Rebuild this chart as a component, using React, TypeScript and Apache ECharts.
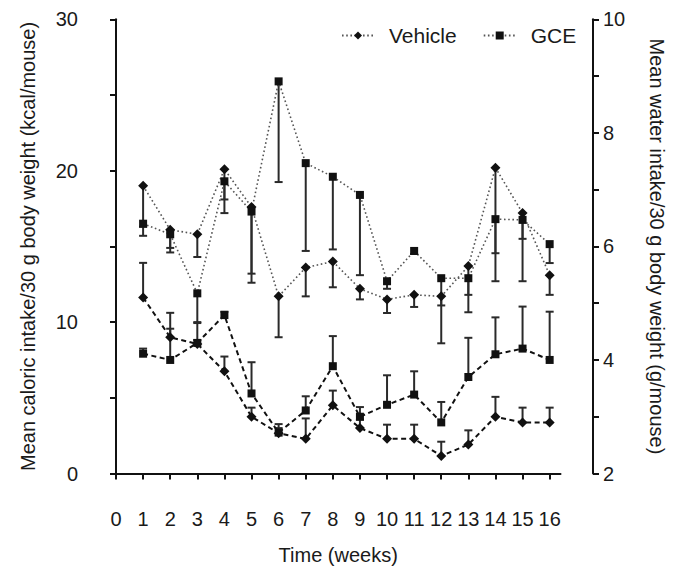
import React, { useEffect, useRef } from "react";
import * as echarts from "echarts";

const weeks = [1, 2, 3, 4, 5, 6, 7, 8, 9, 10, 11, 12, 13, 14, 15, 16];

// Caloric intake (left axis, kcal/mouse) — dotted lines, error bars below
const vehicleCal = [19.0, 16.1, 15.8, 20.1, 17.6, 11.7, 13.6, 14.0, 12.2, 11.5, 11.8, 11.7, 13.7, 20.2, 17.2, 13.1];
const vehicleCalLow = [15.7, 14.6, 14.3, 17.2, 13.2, 9.0, 11.7, 12.3, 11.5, 10.6, 11.0, 11.1, 10.65, 14.55, 15.5, 11.8];
const gceCal = [16.5, 15.8, 11.9, 19.3, 17.3, 25.9, 20.5, 19.6, 18.4, 12.7, 14.7, 12.9, 12.9, 16.8, 16.75, 15.15];
const gceCalLow = [16.3, 14.9, 10.0, 18.1, 12.6, 19.25, 14.7, 14.8, 13.1, 12.2, 14.5, 8.6, 11.8, 12.7, 12.7, 13.9];

// Water intake (right axis, g/mouse) — dashed lines, error bars above
const vehicleWater = [5.1, 4.4, 4.28, 3.8, 3.0, 2.71, 2.61, 3.2, 2.8, 2.61, 2.61, 2.31, 2.51, 3.0, 2.9, 2.9];
const vehicleWaterHigh = [5.71, 4.83, 4.35, 4.06, 3.16, 2.87, 2.97, 3.46, 2.95, 2.86, 2.86, 2.56, 2.76, 3.35, 3.16, 3.16];
const gceWater = [4.11, 4.0, 4.3, 4.79, 3.41, 2.72, 3.11, 3.89, 3.0, 3.21, 3.39, 2.9, 3.7, 4.1, 4.2, 4.0];
const gceWaterHigh = [4.2, 4.55, 4.65, 4.85, 3.96, 2.8, 3.36, 4.42, 3.17, 3.73, 3.8, 3.26, 4.39, 4.75, 4.94, 4.85];

const xTicks = [0, 1, 2, 3, 4, 5, 6, 7, 8, 9, 10, 11, 12, 13, 14, 15, 16];
const leftTicks = [0, 5, 10, 15, 20, 25, 30];
const leftLabels = [0, 10, 20, 30];
const rightTicks = [2, 3, 4, 5, 6, 7, 8, 9, 10];
const rightLabels = [2, 4, 6, 8, 10];

const FONT = "'Liberation Sans', Arial, sans-serif";
const TXT = "#1a1a1a";

function errSeries(name: string, means: number[], ends: number[], yAxisIndex: number) {
  return {
    type: "custom",
    name,
    yAxisIndex,
    z: 2,
    silent: true,
    data: weeks.map((w, i) => [w, means[i], ends[i]]),
    encode: { x: 0, y: [1, 2] },
    renderItem: (params: any, api: any) => {
      const x = api.value(0);
      const p1 = api.coord([x, api.value(1)]);
      const p2 = api.coord([x, api.value(2)]);
      const hw = 4;
      return {
        type: "group",
        children: [
          { type: "line", shape: { x1: p1[0], y1: p1[1], x2: p2[0], y2: p2[1] }, style: { stroke: "#2a2a2a", lineWidth: 2 } },
          { type: "line", shape: { x1: p2[0] - hw, y1: p2[1], x2: p2[0] + hw, y2: p2[1] }, style: { stroke: "#2a2a2a", lineWidth: 2 } },
        ],
      };
    },
  };
}

function lineSeries(name: string, vals: number[], yAxisIndex: number, symbol: string, size: number, dashed: boolean) {
  return {
    type: "line",
    name,
    yAxisIndex,
    z: 3,
    data: weeks.map((w, i) => [w, vals[i]]),
    symbol,
    symbolSize: size,
    showAllSymbol: true,
    itemStyle: { color: "#111" },
    lineStyle: dashed
      ? { type: [5, 3.5], width: 2, color: "#111" }
      : { type: [1.6, 2.6], width: 1.6, color: "#555" },
    emphasis: { disabled: true },
  };
}

export default function App() {
  const ref = useRef<HTMLDivElement>(null);
  useEffect(() => {
    if (!ref.current) return;
    const chart = echarts.init(ref.current, null, { renderer: "svg" });
    const axisLine = { show: true, lineStyle: { color: "#111", width: 2 } };
    chart.setOption({
      animation: false,
      backgroundColor: "#fff",
      grid: { left: 116, right: 110.5, top: 19.3, bottom: 100.5, containLabel: false },
      legend: {
        data: ["Vehicle", "GCE"],
        left: 336,
        top: 20,
        itemWidth: 32,
        itemHeight: 10,
        itemGap: 26,
        selectedMode: false,
        textStyle: { fontSize: 21, fontFamily: FONT, color: TXT, padding: [0, 0, 0, 10] },
      },
      xAxis: {
        type: "value",
        min: 0,
        max: 16.4,
        interval: 1,
        offset: 27,
        splitLine: { show: false },
        axisLine,
        axisTick: { show: true, customValues: xTicks, length: 6, lineStyle: { color: "#111", width: 2 } },
        axisLabel: { customValues: xTicks, fontSize: 20, fontFamily: FONT, color: TXT, margin: 8 },
        name: "Time (weeks)",
        nameLocation: "middle",
        nameGap: 44,
        nameTextStyle: { fontSize: 20, fontFamily: FONT, color: TXT },
      },
      yAxis: [
        {
          type: "value",
          position: "left",
          min: 0,
          max: 30,
          interval: 10,
          offset: 30,
          splitLine: { show: false },
          axisLine,
          axisTick: { show: true, customValues: leftTicks, length: 6, lineStyle: { color: "#111", width: 2 } },
          axisLabel: { customValues: leftLabels, fontSize: 20, fontFamily: FONT, color: TXT, margin: 8 },
          name: "Mean caloric intake/30 g body weight (kcal/mouse)",
          nameLocation: "middle",
          nameRotate: 90,
          nameGap: 48,
          nameTextStyle: { fontSize: 20, fontFamily: FONT, color: TXT },
        },
        {
          type: "value",
          position: "right",
          min: 2,
          max: 10,
          interval: 2,
          offset: 32.5,
          splitLine: { show: false },
          axisLine,
          axisTick: { show: true, customValues: rightTicks, length: 6, lineStyle: { color: "#111", width: 2 } },
          axisLabel: { customValues: rightLabels, fontSize: 20, fontFamily: FONT, color: TXT, margin: 10 },
          name: "Mean water intake/30 g body weight (g/mouse)",
          nameLocation: "middle",
          nameRotate: -90,
          nameGap: 54,
          nameTextStyle: { fontSize: 20, fontFamily: FONT, color: TXT },
        },
      ],
      series: [
        errSeries("errVC", vehicleCal, vehicleCalLow, 0),
        errSeries("errGC", gceCal, gceCalLow, 0),
        errSeries("errVW", vehicleWater, vehicleWaterHigh, 1),
        errSeries("errGW", gceWater, gceWaterHigh, 1),
        lineSeries("Vehicle", vehicleCal, 0, "diamond", 10, false),
        lineSeries("GCE", gceCal, 0, "rect", 8, false),
        lineSeries("Vehicle water", vehicleWater, 1, "diamond", 10, true),
        lineSeries("GCE water", gceWater, 1, "rect", 8, true),
      ],
    });
    return () => chart.dispose();
  }, []);
  return (
    <div
      ref={ref}
      style={{ position: "fixed", left: 0, top: 0, width: 675, height: 574, background: "#fff" }}
    />
  );
}
